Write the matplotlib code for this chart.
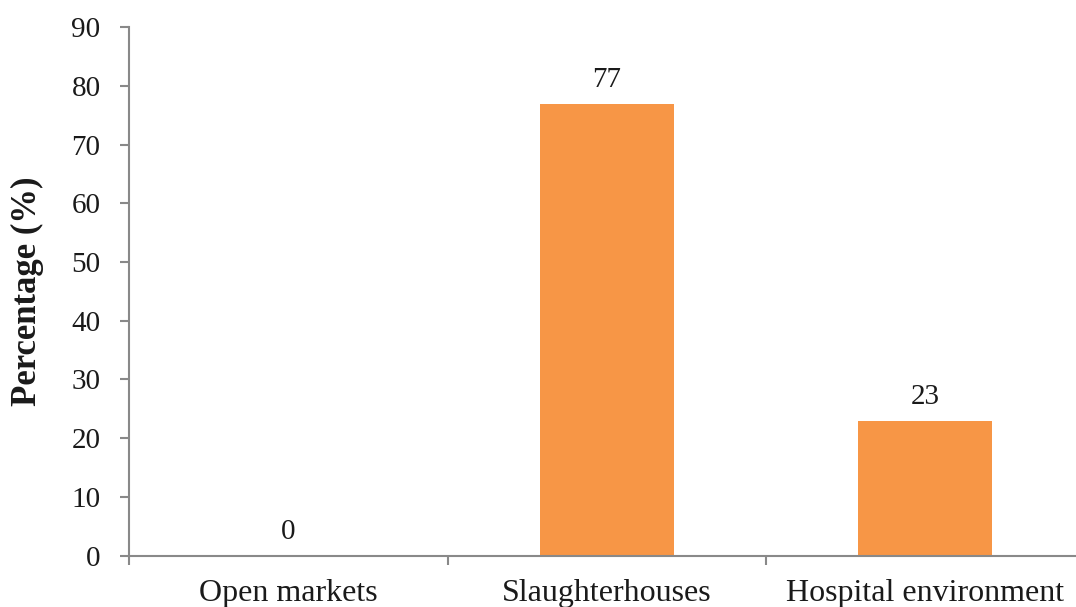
import matplotlib
matplotlib.use("Agg")
import matplotlib.pyplot as plt
import numpy as np

categories = ["Open markets", "Slaughterhouses", "Hospital environment"]
percentages = [0, 77, 23]
y_ticks = [0, 10, 20, 30, 40, 50, 60, 70, 80, 90]

plt.rcParams["font.family"] = ["Liberation Serif", "DejaVu Serif"]

fig = plt.figure(figsize=(10.76, 6.07), dpi=100)
ax = fig.add_axes([129 / 1076, 51.5 / 607, 955.5 / 1076, 528.2 / 607])

x = np.arange(len(categories))
bars = ax.bar(x, percentages, width=0.42, color="#F79646", zorder=2)

for xi, v in zip(x, percentages):
    ax.annotate(f"{v}", (xi, v), xytext=(0, 12), textcoords="offset points",
                ha="center", va="baseline", fontsize=21, color="#1a1a1a")

ax.set_xlim(-0.5, len(categories) - 0.5)
ax.set_ylim(0, 90)
ax.set_yticks(y_ticks)
ax.set_yticklabels([str(t) for t in y_ticks], fontsize=21, color="#1a1a1a")

ax.set_xticks(x)
ax.set_xticklabels(categories, fontsize=23, color="#1a1a1a")
ax.set_xticks(np.arange(-0.5, len(categories), 1.0), minor=True)

spine_color = "#898989"
for side in ["top", "right"]:
    ax.spines[side].set_visible(False)
for side in ["left", "bottom"]:
    ax.spines[side].set_color(spine_color)
    ax.spines[side].set_linewidth(1.5)

ax.tick_params(axis="y", which="major", direction="out", length=6.5, width=1.5,
               color=spine_color, pad=14)
ax.tick_params(axis="x", which="major", length=0, pad=17)
ax.tick_params(axis="x", which="minor", direction="out", length=6.5, width=1.5,
               color=spine_color)

ax.set_ylabel("Percentage (%)", fontsize=25, fontweight="bold", color="#1a1a1a")
ax.yaxis.set_label_coords(-0.089, 0.5)

fig.savefig("out.png", dpi=100)
